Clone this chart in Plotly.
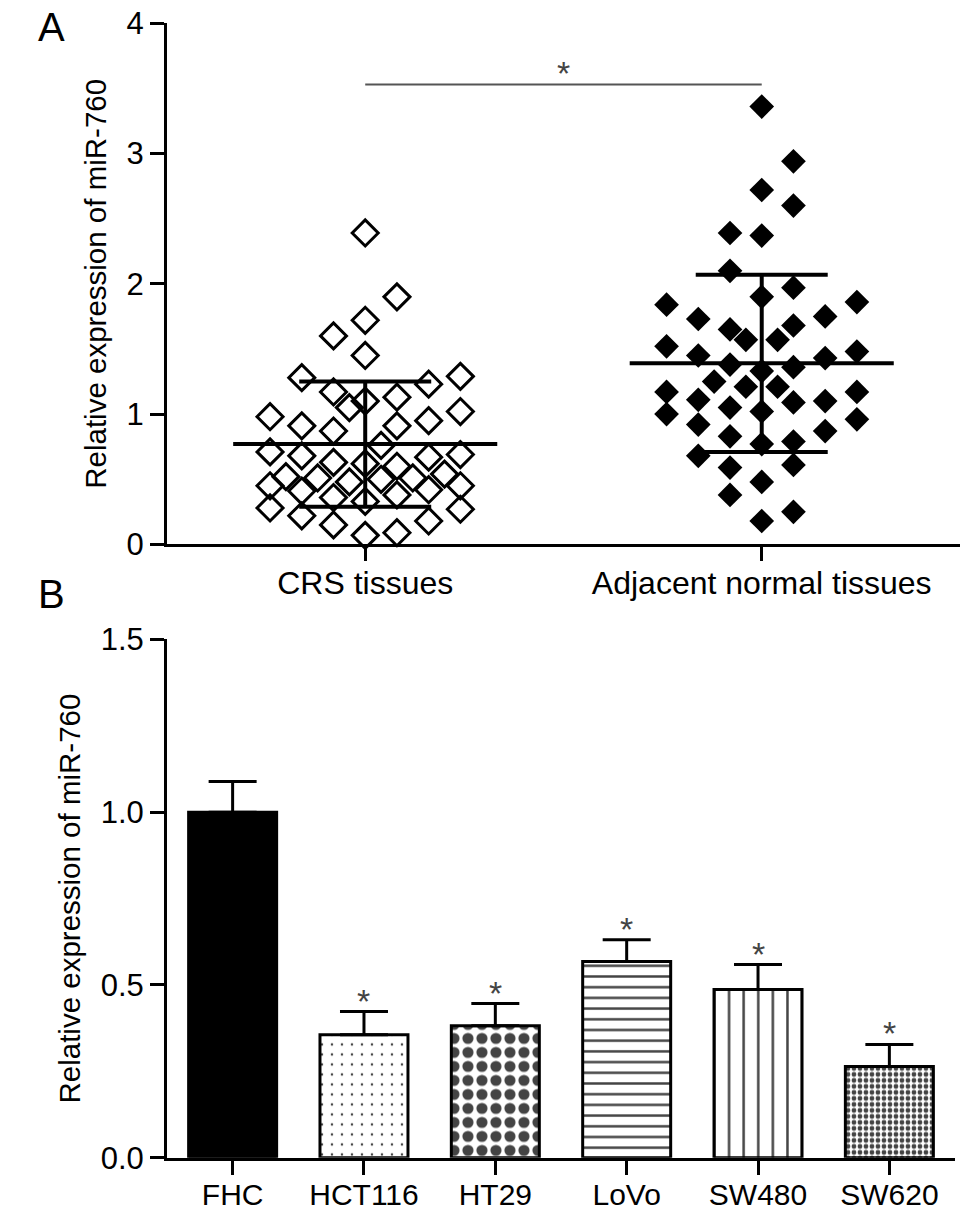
import plotly.graph_objects as go

# ---- panel A: miR-760 in tissues (individual values, mean +/- SD) ----
groups_a = ["CRS tissues", "Adjacent normal tissues"]

# column offset of each diamond (in swarm columns) and its value
crs_cols = [0, 1, 0, -1, 0, -2, 2, 3, -1, 1, 0, -0.5,
            -3, -2, -1, 1, 2, 3, 0.5,
            -3, -2, -1, 1, 2, 3, 0,
            -2.5, -1.5, -0.5, 0.5, 1.5, 2.5,
            -3, -2, -1, 1, 2, 3, 0,
            -3, -2, -1, 0, 1, 2, 3]
crs_vals = [2.39, 1.90, 1.72, 1.60, 1.45, 1.28, 1.23, 1.29, 1.17, 1.13, 1.10, 1.05,
            0.98, 0.91, 0.87, 0.91, 0.95, 1.02, 0.76,
            0.71, 0.68, 0.63, 0.60, 0.67, 0.69, 0.62,
            0.52, 0.51, 0.48, 0.50, 0.51, 0.54,
            0.45, 0.41, 0.36, 0.38, 0.42, 0.45, 0.33,
            0.28, 0.22, 0.15, 0.07, 0.09, 0.18, 0.27]

adj_cols = [0, 1, 0, 1, -1, 0, -1, 1, 0, -3, 3, -2, 2, -1, 1, -0.5, 0.5,
            -3, 3, -2, 2, -1, 1, 0, -1.5, -0.5, 0.5, -3, -2, 1, 2, 3,
            -3, -2, -1, 0, 3, 2, -1, 1, 0, -2, 1, -1, 0, -1, 1, 0]
adj_vals = [3.36, 2.94, 2.72, 2.60, 2.39, 2.37, 2.10, 1.97, 1.90, 1.84, 1.86, 1.73, 1.75, 1.65, 1.68, 1.57, 1.57,
            1.52, 1.48, 1.45, 1.43, 1.38, 1.36, 1.33, 1.25, 1.21, 1.21, 1.17, 1.11, 1.09, 1.10, 1.17,
            1.00, 0.92, 1.05, 1.02, 0.96, 0.87, 0.83, 0.79, 0.77, 0.68, 0.61, 0.59, 0.48, 0.38, 0.25, 0.18]

mean_a = [0.77, 1.39]
sd_a = [0.48, 0.68]
signif_a = "*"

# ---- panel B: miR-760 in cell lines (mean + SD) ----
cell_lines = ["FHC", "HCT116", "HT29", "LoVo", "SW480", "SW620"]
expr_b = [1.0, 0.356, 0.382, 0.568, 0.487, 0.264]
err_b = [0.089, 0.067, 0.064, 0.063, 0.072, 0.064]
signif_b = ["", "*", "*", "*", "*", "*"]

FONT = "Liberation Sans, Arial, sans-serif"
COL_STEP = 0.08
TITLE_Y = "Relative expression of miR-760"

fig = go.Figure()

fig.add_trace(go.Scatter(
    x=[0 + c * COL_STEP for c in crs_cols], y=crs_vals, mode="markers",
    marker=dict(symbol="diamond-open", size=20, color="black", line=dict(width=3, color="black")),
    cliponaxis=False, xaxis="x", yaxis="y", showlegend=False))
fig.add_trace(go.Scatter(
    x=[1 + c * COL_STEP for c in adj_cols], y=adj_vals, mode="markers",
    marker=dict(symbol="diamond", size=19, color="black", line=dict(width=0)),
    cliponaxis=False, xaxis="x", yaxis="y", showlegend=False))
# mean line + SD whiskers
fig.add_trace(go.Scatter(
    x=[0, 1], y=mean_a, mode="markers",
    marker=dict(size=1, color="rgba(0,0,0,0)"),
    error_x=dict(type="constant", value=0.333, width=0, thickness=4, color="black"),
    error_y=dict(type="data", array=sd_a, width=66, thickness=4, color="black"),
    xaxis="x", yaxis="y", showlegend=False))

fig.add_trace(go.Bar(
    x=cell_lines, y=expr_b, width=0.67,
    marker=dict(
        color=["black", "white", "white", "white", "white", "white"],
        line=dict(color="black", width=3),
        pattern=dict(
            shape=["", ".", ".", "-", "|", "."],
            size=[8, 10, 14, 10.7, 14.6, 6],
            solidity=[0.5, 0.05, 0.5, 0.23, 0.17, 0.5],
            fgcolor=["black", "#777777", "black", "black", "black", "black"],
            bgcolor="white",
            fgopacity=1,
        ),
    ),
    error_y=dict(type="data", array=err_b, arrayminus=[0] * len(err_b), symmetric=False,
                 width=24, thickness=3, color="black"),
    xaxis="x2", yaxis="y2", showlegend=False))

axis_style = dict(showline=True, linewidth=3, linecolor="black", ticks="outside",
                  ticklen=14, tickwidth=3, tickcolor="black", showgrid=False,
                  zeroline=False, tickfont=dict(size=31, color="black", family=FONT))

star_font = dict(size=34, color="#444444", family=FONT)
annotations = [
    dict(text=signif_a, x=0.5, y=3.53, xref="x", yref="y", yanchor="bottom", yshift=-10,
         showarrow=False, font=star_font),
    dict(text="A", x=0.037, y=1.0, xref="paper", yref="paper", xanchor="left",
         yanchor="top", yshift=14, showarrow=False, font=dict(size=40)),
    dict(text="B", x=0.037, y=0.535, xref="paper", yref="paper", xanchor="left",
         yanchor="top", showarrow=False, font=dict(size=40)),
]
for name, v, e, s in zip(cell_lines, expr_b, err_b, signif_b):
    if s:
        annotations.append(dict(text=s, x=name, y=v + e, xref="x2", yref="y2",
                                yanchor="bottom", yshift=-10, showarrow=False, font=star_font))

fig.update_layout(
    width=969, height=1224,
    margin=dict(l=0, r=0, t=0, b=0),
    paper_bgcolor="white", plot_bgcolor="white",
    font=dict(family=FONT, color="black"),
    xaxis=dict(domain=[0.1723, 0.9907], range=[-0.5, 1.5], anchor="y",
               tickvals=[0, 1], ticktext=groups_a, ticklabelstandoff=-6,
               **{**axis_style, "tickfont": dict(size=32, color="black", family=FONT)}),
    yaxis=dict(domain=[0.5564, 0.9948], range=[0, 4], dtick=1, anchor="x",
               title=dict(text=TITLE_Y, font=dict(size=29.5), standoff=12), **axis_style),
    xaxis2=dict(domain=[0.1723, 0.9856], range=[-0.5, 5.5], anchor="y2", type="category",
                ticklabelstandoff=-6,
                **{**axis_style, "tickfont": dict(size=30, color="black", family=FONT)}),
    yaxis2=dict(domain=[0.0406, 0.4765], range=[0, 1.5], tickvals=[0, 0.5, 1.0, 1.5],
                tickformat=".1f", anchor="x2",
                title=dict(text=TITLE_Y, font=dict(size=29.5), standoff=12), **axis_style),
    shapes=[dict(type="line", xref="x", yref="y", x0=0, x1=1, y0=3.53, y1=3.53,
                 line=dict(color="#555555", width=2))],
    annotations=annotations,
)

# page body has a default 8px margin; drop it so the figure fills the window
fig.write_html("out.html", config={"displayModeBar": False},
               post_script="document.body.style.margin = '0px';")
